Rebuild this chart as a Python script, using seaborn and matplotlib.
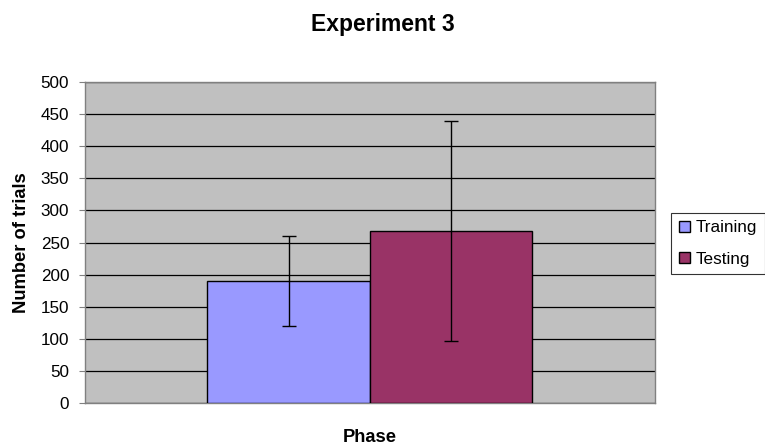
import pandas as pd
import seaborn as sns
import matplotlib.pyplot as plt

fases = ['Training', 'Testing']
medias = [190, 268]
erros = [70, 171]
cores = ['#9999FF', '#993366']

df = pd.DataFrame({'Phase': ['', ''], 'Group': fases, 'Trials': medias})

sns.set_style('white')
plt.rcParams['font.family'] = ['Liberation Sans', 'DejaVu Sans']
plt.rcParams['text.color'] = 'black'
plt.rcParams['axes.labelcolor'] = 'black'
plt.rcParams['ytick.color'] = 'black'

fig = plt.figure(figsize=(7.65, 4.48), dpi=100)
ax = fig.add_axes([0.111, 0.1004, 0.745, 0.7165])

sns.barplot(data=df, x='Phase', y='Trials', hue='Group', palette=cores,
            width=0.57, errorbar=None, edgecolor='black', linewidth=1,
            saturation=1, ax=ax, zorder=3)

# barras de erro manualmente, no centro de cada barra
for p, e in zip(ax.patches, erros):
    cx = p.get_x() + p.get_width() / 2
    ax.errorbar(cx, p.get_height(), yerr=e, color='black', capsize=5,
                elinewidth=1, capthick=1, zorder=4)

ax.set_facecolor('#C0C0C0')
ax.set_xlim(-0.5, 0.5)
ax.set_ylim(0, 500)
ax.set_yticks(range(0, 501, 50))
ax.yaxis.grid(True, color='black', linewidth=0.9, zorder=0)
ax.set_axisbelow(True)
ax.tick_params(axis='y', left=True, length=4.3, width=0.8, color='#808080',
               labelcolor='black', labelsize=12.3, pad=7)
ax.tick_params(axis='x', bottom=False)
ax.set_xticklabels([])
for s in ax.spines.values():
    s.set_color('#808080')
    s.set_linewidth(1)

ax.set_ylabel('Number of trials', fontsize=13.2, fontweight='bold')
ax.yaxis.set_label_coords(-0.096, 0.5)
ax.set_xlabel('Phase', fontsize=13.2, fontweight='bold')
ax.xaxis.set_label_coords(0.5, -0.08)
fig.suptitle('Experiment 3', x=0.5, y=0.972, fontsize=16.5, fontweight='bold')

ax.get_legend().remove()
handles = [plt.Rectangle((0, 0), 1, 1, facecolor=c, edgecolor='black', linewidth=1) for c in cores]
leg = fig.legend(handles, fases, loc='upper left', bbox_to_anchor=(0.877, 0.525),
                 fontsize=12.3, frameon=True, fancybox=False, edgecolor='black',
                 handlelength=0.65, handleheight=0.65, handletextpad=0.35,
                 borderpad=0.45, labelspacing=0.95, borderaxespad=0)
leg.get_frame().set_linewidth(0.8)

plt.savefig('out.png', dpi=100)
